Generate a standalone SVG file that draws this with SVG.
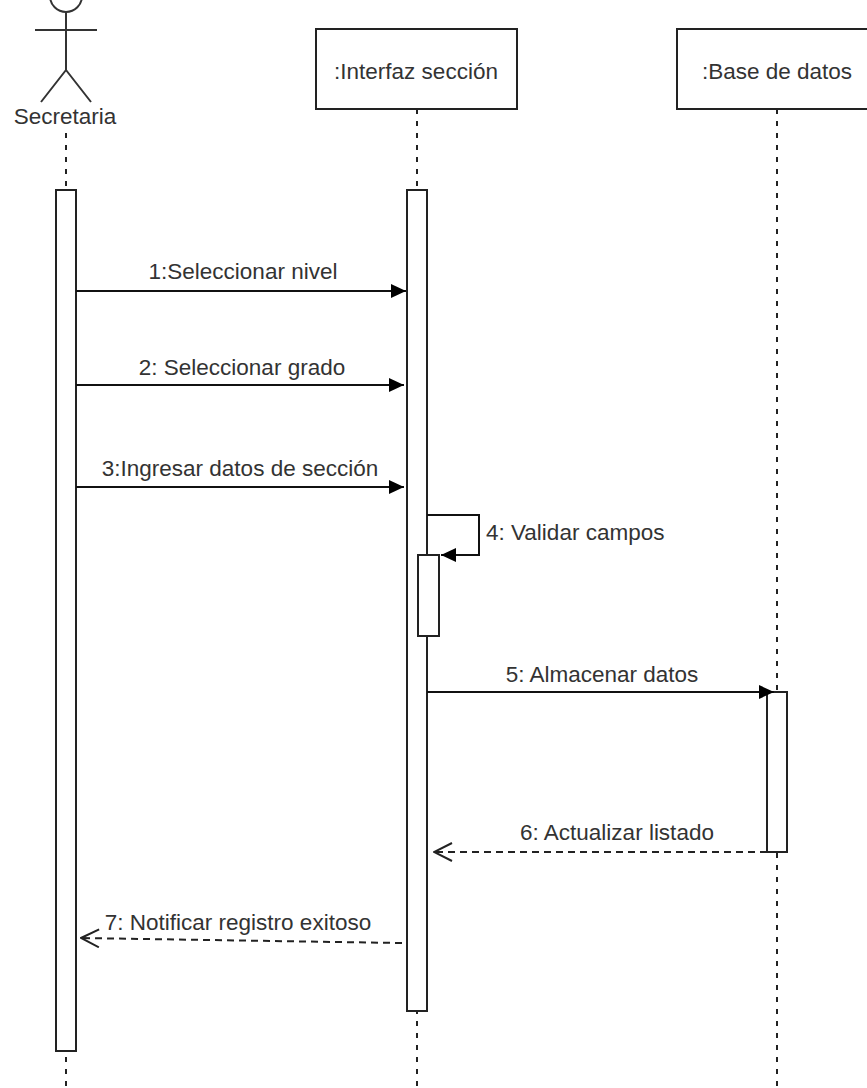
<svg xmlns="http://www.w3.org/2000/svg" width="867" height="1088" viewBox="0 0 867 1088">
<style>
.t{font-family:"Liberation Sans",Arial,sans-serif;font-size:22.5px;fill:#333}
.m{text-anchor:middle}
.box{fill:#fff;stroke:#222;stroke-width:2}
.life{stroke:#222;stroke-width:2;stroke-dasharray:5 7;fill:none}
.msg{stroke:#111;stroke-width:2;fill:none}
.ret{stroke:#222;stroke-width:2;stroke-dasharray:7 5;fill:none}
.fig{stroke:#333;stroke-width:2;fill:none}
</style>
<defs>
<marker id="fill" viewBox="0 0 15 14" refX="15" refY="7" markerWidth="15" markerHeight="14" markerUnits="userSpaceOnUse" orient="auto">
<path d="M0,0 L15,7 L0,14 Z" fill="#000"/>
</marker>
<marker id="open" viewBox="0 0 20 20" refX="19" refY="10" markerWidth="20" markerHeight="20" markerUnits="userSpaceOnUse" orient="auto">
<path d="M1,1 L19,10 L1,19" fill="none" stroke="#222" stroke-width="2"/>
</marker>
</defs>

<g id="lifelines">
<line class="life" x1="66" y1="133" x2="66" y2="1088"/>
<line class="life" x1="417" y1="109" x2="417" y2="1088"/>
<line class="life" x1="777" y1="109" x2="777" y2="1088"/>
</g>

<g id="secretaria">
<circle class="fig" cx="66" cy="-4" r="16"/>
<line class="fig" x1="35" y1="30" x2="97" y2="30"/>
<line class="fig" x1="66" y1="12" x2="66" y2="70"/>
<path class="fig" d="M41,102 L66,70 L91,102"/>
<text class="t m" x="65" y="124">Secretaria</text>
<rect class="box" x="56" y="190" width="20" height="861"/>
</g>

<g id="interfaz">
<rect class="box" x="316" y="29" width="201" height="80"/>
<text class="t m" x="416" y="79">:Interfaz sección</text>
<rect class="box" x="407" y="190" width="20" height="821"/>
<rect class="box" x="418" y="555" width="21" height="81"/>
</g>

<g id="basedatos">
<rect class="box" x="677" y="29" width="201" height="80"/>
<text class="t m" x="777" y="79">:Base de datos</text>
<rect class="box" x="767" y="692" width="20" height="160"/>
</g>

<g id="connectors">
<line class="msg" x1="76" y1="291" x2="406" y2="291" marker-end="url(#fill)"/>
<text class="t m" x="243" y="279">1:Seleccionar nivel</text>
<line class="msg" x1="76" y1="385" x2="404" y2="385" marker-end="url(#fill)"/>
<text class="t m" x="242" y="375">2: Seleccionar grado</text>
<line class="msg" x1="76" y1="487" x2="404" y2="487" marker-end="url(#fill)"/>
<text class="t m" x="240" y="476">3:Ingresar datos de sección</text>
<path class="msg" d="M427,515 H479 V555 H441" marker-end="url(#fill)"/>
<text class="t" x="486" y="540">4: Validar campos</text>
<line class="msg" x1="427" y1="692" x2="774" y2="692" marker-end="url(#fill)"/>
<text class="t m" x="602" y="682">5: Almacenar datos</text>
<line class="ret" x1="767" y1="852" x2="434" y2="852" marker-end="url(#open)"/>
<text class="t m" x="617" y="840">6: Actualizar listado</text>
<line class="ret" x1="402" y1="943" x2="81" y2="938" marker-end="url(#open)"/>
<text class="t m" x="238" y="930">7: Notificar registro exitoso</text>
</g>
</svg>
